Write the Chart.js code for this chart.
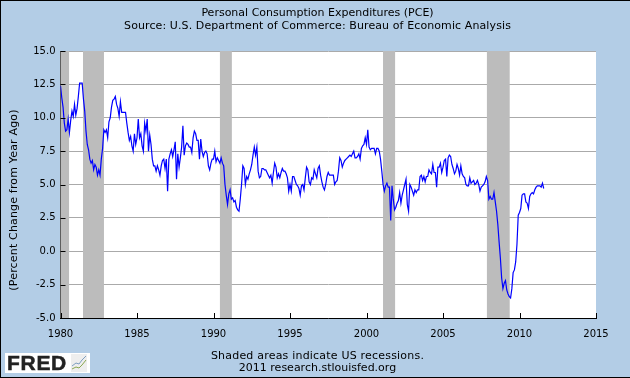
<!DOCTYPE html>
<html>
<head>
<meta charset="utf-8">
<title>Personal Consumption Expenditures (PCE)</title>
<script src="https://cdn.jsdelivr.net/npm/chart.js@4"></script>
<style>
    body { margin: 0; background: #B3CDE6; }
    #wrap { position: relative; width: 630px; height: 378px; overflow: hidden; background: #B3CDE6; }
    #wrap::after { content: ''; position: absolute; inset: 0; border: solid #000; border-width: 1px 0 1px 1px; pointer-events: none; }
    #logo { position: absolute; left: 5px; top: 353px; width: 85px; height: 20px; background: #fff; display: flex; align-items: center; }
    #logo span { font: bold 21px "Liberation Sans", sans-serif; color: #222; margin-left: 2px; letter-spacing: 0.7px; -webkit-text-stroke: 0.5px #222; }
    #logo svg { margin-left: 4px; }
</style>
</head>
<body>
<div id="wrap">
    <canvas id="chart" width="630" height="378"></canvas>
    <div id="logo">
        <span>FRED</span>
        <svg width="16" height="18" viewBox="0 0 16 18">
            <rect width="16" height="18" fill="#eee"/>
            <polyline points="1,12 5,9 8,10 11,6 15,2" fill="none" stroke="#7f9fc0"/>
            <polyline points="1,15 5,13 8,14 11,11 15,6" fill="none" stroke="#8aa850"/>
        </svg>
    </div>
</div>
<script>
const titleLines = ['Personal Consumption Expenditures (PCE)', 'Source: U.S. Department of Commerce: Bureau of Economic Analysis'];
const footerLines = ['Shaded areas indicate US recessions.', '2011 research.stlouisfed.org'];
const yAxisTitle = '(Percent Change from Year Ago)';

// recessions in decimal years
const recessionStart = [1980.0, 1981.47, 1990.42, 2001.08, 2007.87];
const recessionEnd = [1980.56, 1982.84, 1991.2, 2001.87, 2009.36];

const firstYear = 1980;

// monthly, one row per year from 1980
const pceValues = [
    12.4, 11.5, 10.8, 9.6, 9.0, 9.1, 9.9, 8.9, 9.8, 10.5, 10.1, 11.0,
    10.2, 10.7, 11.6, 12.6, 12.6, 12.6, 11.4, 10.5, 9.0, 8.0, 7.6, 6.9,
    6.6, 6.8, 6.1, 6.5, 6.3, 5.7, 6.1, 5.7, 6.9, 7.7, 9.1, 8.9,
    9.1, 8.5, 9.7, 10.0, 10.8, 11.3, 11.4, 11.6, 11.0, 10.7, 10.1, 11.2,
    10.4, 10.4, 10.4, 10.4, 9.6, 8.9, 8.3, 8.6, 7.9, 7.5, 8.8, 8.0,
    8.5, 9.9, 8.5, 8.8, 7.9, 7.5, 9.6, 9.0, 9.9, 7.5, 8.7, 8.0,
    6.9, 6.4, 6.4, 6.0, 6.4, 6.1, 5.7, 6.4, 6.8, 6.9, 6.2, 6.9,
    4.5, 6.9, 7.3, 7.6, 7.1, 7.6, 8.2, 5.4, 7.3, 6.3, 7.0, 7.8,
    9.4, 7.2, 7.9, 8.1, 8.0, 7.8, 7.8, 7.4, 8.5, 9.0, 8.8, 8.3,
    8.3, 6.9, 8.4, 7.5, 7.1, 7.4, 7.5, 7.3, 6.4, 6.1, 6.6, 6.9,
    6.9, 7.5, 6.7, 7.0, 6.8, 6.6, 7.0, 6.6, 6.4, 5.0, 4.2, 3.5,
    4.3, 4.6, 3.9, 4.0, 3.7, 3.8, 3.3, 3.1, 3.0, 3.9, 5.0, 6.4,
    6.2, 5.0, 5.6, 5.4, 5.8, 6.1, 6.5, 7.2, 7.8, 7.2, 7.8, 6.0,
    5.5, 5.6, 6.2, 6.2, 6.1, 6.1, 5.9, 5.7, 5.5, 5.7, 5.1, 5.9,
    6.6, 6.3, 5.5, 5.8, 5.5, 5.9, 6.2, 6.0, 6.0, 5.8, 5.5, 4.5,
    5.0, 4.5, 5.6, 5.6, 5.3, 5.0, 4.9, 4.7, 4.2, 4.9, 5.0, 4.6,
    5.5, 6.3, 6.1, 5.2, 5.0, 5.5, 5.4, 6.1, 5.8, 5.5, 6.2, 6.4,
    5.7, 5.2, 4.8, 4.6, 5.0, 5.6, 5.9, 5.7, 5.7, 5.7, 5.7, 5.0,
    5.2, 5.3, 6.0, 7.0, 6.8, 6.3, 6.6, 6.8, 6.9, 7.0, 7.1, 7.2,
    7.1, 7.3, 7.5, 7.0, 7.0, 7.1, 7.3, 6.9, 7.7, 7.9, 8.0, 8.5,
    8.0, 9.1, 7.8, 7.6, 7.7, 7.7, 7.7, 7.3, 7.7, 7.7, 7.5, 6.9,
    6.0, 5.0, 4.5, 4.9, 5.1, 4.8, 4.8, 2.3, 4.9, 3.9, 3.1, 3.3,
    3.6, 3.8, 4.4, 3.6, 4.2, 4.6, 5.0, 5.4, 3.5, 3.0, 5.0, 4.8,
    4.5, 4.2, 4.6, 4.4, 4.6, 4.6, 5.6, 5.7, 5.3, 5.6, 5.2, 5.6,
    5.6, 6.1, 5.9, 5.8, 6.5, 5.9, 5.9, 4.8, 6.3, 6.3, 6.6, 5.9,
    6.3, 6.8, 6.9, 5.6, 7.0, 7.2, 7.1, 6.5, 6.2, 5.8, 6.0, 6.5,
    6.2, 5.7, 6.4, 5.8, 5.6, 5.5, 5.0, 4.9, 4.9, 5.5, 5.1, 5.2,
    5.3, 5.0, 5.1, 5.3, 5.0, 4.5, 4.8, 4.9, 5.0, 5.2, 5.6, 5.3,
    3.9, 4.1, 3.9, 3.9, 4.4, 3.7, 3.0, 2.0, 0.7, -0.5, -2.0, -2.8,
    -2.4, -2.2, -2.9, -3.2, -3.4, -3.5, -2.8, -1.6, -1.4, -0.8, 0.5, 2.7,
    2.9, 3.2, 4.2, 4.3, 4.3, 3.7, 3.6, 3.2, 4.1, 4.3, 4.4, 4.3,
    4.6, 4.8, 4.9, 4.9, 4.9, 4.8, 5.1, 4.7
];

const points = pceValues.map((v, i) => ({ x: firstYear + i / 12, y: v }));

// recession bands go over the grid lines but under the data line
const recessionBands = {
    id: 'recessionBands',
    beforeDraw(chart) {
        const { ctx, chartArea: a } = chart;
        ctx.fillStyle = '#fff';
        ctx.fillRect(a.left, a.top, a.right - a.left, a.bottom - a.top);
    },
    beforeDatasetsDraw(chart) {
        const { ctx, chartArea: a, scales: { x } } = chart;
        ctx.fillStyle = '#BCBCBC';
        recessionStart.forEach((s, i) => {
            const x1 = x.getPixelForValue(s);
            const x2 = x.getPixelForValue(recessionEnd[i]);
            ctx.fillRect(x1, a.top, x2 - x1, a.bottom - a.top);
        });
    }
};

// inward ticks on both axes, plus the title, footer and y axis text
const decorations = {
    id: 'decorations',
    afterDraw(chart) {
        const { ctx, chartArea: a, scales: { x, y } } = chart;
        ctx.save();
        ctx.strokeStyle = '#000';
        ctx.lineWidth = 1;
        x.ticks.forEach(t => {
            const px = Math.round(x.getPixelForValue(t.value)) + 0.5;
            ctx.beginPath();
            ctx.moveTo(px, a.bottom);
            ctx.lineTo(px, a.bottom - 5);
            ctx.stroke();
        });
        y.ticks.forEach(t => {
            const py = Math.round(y.getPixelForValue(t.value)) + 0.5;
            ctx.beginPath();
            ctx.moveTo(a.left, py);
            ctx.lineTo(a.left + 5, py);
            ctx.stroke();
        });
        ctx.fillStyle = '#000';
        ctx.font = '11px "DejaVu Sans"';
        ctx.textAlign = 'center';
        ctx.textBaseline = 'alphabetic';
        ctx.fillText(titleLines[0], 317.5, 16);
        ctx.letterSpacing = '0.1px';
        ctx.fillText(titleLines[1], 317.5, 29);
        ctx.letterSpacing = '0.2px';
        ctx.fillText(footerLines[0], 317.5, 359);
        ctx.letterSpacing = '0px';
        ctx.fillText(footerLines[1], 317.5, 371);
        ctx.letterSpacing = '0.17px';
        ctx.translate(17, 200);
        ctx.rotate(-Math.PI / 2);
        ctx.fillText(yAxisTitle, 0, 0);
        ctx.restore();
    }
};

new Chart(document.getElementById('chart'), {
    type: 'line',
    data: {
        datasets: [{
            data: points,
            borderColor: '#0000FF',
            borderWidth: 1.2,
            pointRadius: 0,
            tension: 0,
            fill: false
        }]
    },
    options: {
        responsive: false,
        animation: false,
        parsing: false,
        layout: { padding: { top: 51, right: 34, bottom: 0, left: 0 } },
        plugins: { legend: { display: false }, tooltip: { enabled: false } },
        scales: {
            x: {
                type: 'linear',
                min: 1980,
                max: 2015,
                afterFit(scale) { scale.height = 60; },
                border: { color: '#000', width: 1 },
                grid: { display: false },
                ticks: {
                    stepSize: 5,
                    maxRotation: 0,
                    color: '#000',
                    font: { family: 'DejaVu Sans', size: 10 },
                    padding: 2,
                    callback: v => String(v)
                }
            },
            y: {
                min: -5,
                max: 15,
                afterFit(scale) { scale.width = 60.5; },
                border: { color: '#000', width: 1 },
                grid: { color: '#AAAAAA', lineWidth: 1, drawTicks: false },
                ticks: {
                    stepSize: 2.5,
                    color: '#000',
                    font: { family: 'DejaVu Sans', size: 10 },
                    padding: 5,
                    callback: v => v.toFixed(1)
                }
            }
        }
    },
    plugins: [recessionBands, decorations]
});
</script>
</body>
</html>
